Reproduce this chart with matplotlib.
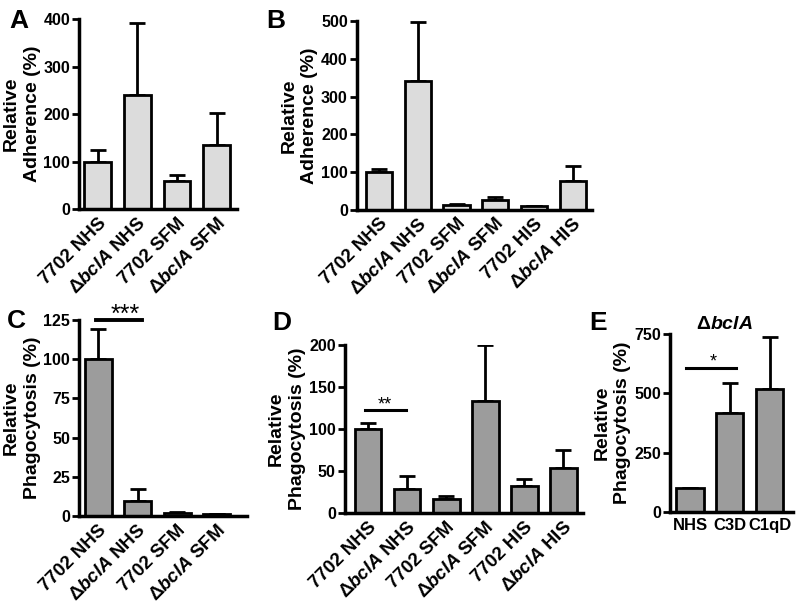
import matplotlib
matplotlib.use("Agg")
import matplotlib.pyplot as plt
import numpy as np

plt.rcParams['font.family'] = ['Liberation Sans', 'DejaVu Sans']
plt.rcParams['font.weight'] = 'bold'
plt.rcParams['mathtext.fontset'] = 'custom'
plt.rcParams['mathtext.rm'] = 'Liberation Sans:bold'
plt.rcParams['mathtext.it'] = 'Liberation Sans:bold:italic'
plt.rcParams['mathtext.bf'] = 'Liberation Sans:bold'

BCL = r"$\Delta\it{bclA}$"

# panel A - adherence
labels_a = ["7702 NHS", BCL + " NHS", "7702 SFM", BCL + " SFM"]
mean_a = [100, 240, 60, 135]
sem_a = [25, 153, 12, 67]

# panel B - adherence incl. heat-inactivated serum
labels_b = ["7702 NHS", BCL + " NHS", "7702 SFM", BCL + " SFM", "7702 HIS", BCL + " HIS"]
mean_b = [100, 342, 13, 26, 10, 75]
sem_b = [8, 155, 2, 9, 1, 40]

# panel C - phagocytosis
labels_c = labels_a
mean_c = [100, 9.5, 2, 1]
sem_c = [19, 8, 0.5, 0.5]

# panel D - phagocytosis
labels_d = labels_b
mean_d = [100, 29, 17, 133, 32, 53]
sem_d = [7, 15, 3, 67, 8, 22]

# panel E - dbclA in complement depleted serum
labels_e = ["NHS", "C3D", "C1qD"]
mean_e = [100, 418, 520]
sem_e = [0, 125, 217]

light = "#dcdcdc"
dark = "#9c9c9c"
LW = 2.0

fig = plt.figure(figsize=(8, 6.01), dpi=100)


def panel(rect, labels, mean, sem, color, yticks, ylabel, xlim, rot=45, xfs=13.5):
    ax = fig.add_axes(rect)
    x = np.arange(len(mean))
    ax.bar(x, mean, width=0.68, color=color, edgecolor="black", linewidth=LW, zorder=2)
    ax.errorbar(x, mean, yerr=[np.zeros(len(sem)), sem], fmt="none", ecolor="black",
                elinewidth=LW, capsize=6, capthick=LW, zorder=1)
    ax.set_xlim(*xlim)
    ax.set_ylim(0, yticks[-1])
    ax.set_yticks(yticks)
    ax.tick_params(axis="y", labelsize=11.5, width=LW, length=5, direction="out", pad=1.5)
    ax.tick_params(axis="x", length=0, pad=4)
    ax.set_xticks(x)
    if rot:
        ax.set_xticklabels(labels, rotation=rot, ha="right", rotation_mode="anchor",
                           fontsize=xfs, fontweight="bold")
    else:
        ax.set_xticklabels(labels, fontsize=xfs, fontweight="bold")
    for s in ["top", "right"]:
        ax.spines[s].set_visible(False)
    for s in ["left", "bottom"]:
        ax.spines[s].set_linewidth(LW + 0.5)
    ax.set_ylabel(ylabel, fontsize=14, fontweight="bold", linespacing=1.3, labelpad=2)
    return ax


axA = panel([0.099, 0.652, 0.197, 0.316], labels_a, mean_a, sem_a, light,
            [0, 100, 200, 300, 400], "Relative\nAdherence (%)", (-0.47, 3.51))
axB = panel([0.446, 0.651, 0.294, 0.314], labels_b, mean_b, sem_b, light,
            [0, 100, 200, 300, 400, 500], "Relative\nAdherence (%)", (-0.58, 5.5))
axC = panel([0.099, 0.1414, 0.21, 0.326], labels_c, mean_c, sem_c, dark,
            [0, 25, 50, 75, 100, 125], "Relative\nPhagocytosis (%)", (-0.48, 3.77))
axD = panel([0.431, 0.1464, 0.298, 0.2796], labels_d, mean_d, sem_d, dark,
            [0, 50, 100, 150, 200], "Relative\nPhagocytosis (%)", (-0.6, 5.51))
axE = panel([0.8375, 0.148, 0.1535, 0.296], labels_e, mean_e, sem_e, dark,
            [0, 250, 500, 750], "Relative\nPhagocytosis (%)", (-0.5, 2.575), rot=0, xfs=12)

# significance bars
axC.plot([-0.05, 1.1], [125, 125], color="black", lw=2.8, clip_on=False)
axC.text(0.68, 121, "***", ha="center", va="bottom", fontsize=18, fontweight="normal")
axD.plot([-0.09, 0.97], [123, 123], color="black", lw=2.2, clip_on=False)
axD.text(0.42, 118.5, "**", ha="center", va="bottom", fontsize=13, fontweight="normal")
axE.plot([-0.1, 1.15], [607, 607], color="black", lw=2.2, clip_on=False)
axE.text(0.58, 596, "*", ha="center", va="bottom", fontsize=13, fontweight="normal")
axE.text(0.87, 755, BCL, ha="center", va="bottom", fontsize=14)

# panel letters
for lab, xx, yy in [("A", 0.012, 0.965), ("B", 0.333, 0.965), ("C", 0.009, 0.466),
                    ("D", 0.34, 0.462), ("E", 0.737, 0.462)]:
    fig.text(xx, yy, lab, fontsize=19, fontweight="bold", va="center")

fig.savefig("out.png", dpi=100)
